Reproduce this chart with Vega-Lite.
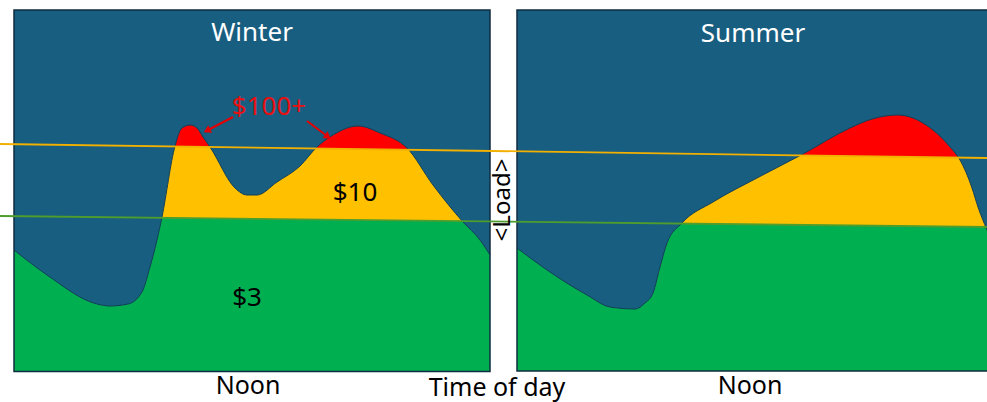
{
  "$schema": "https://vega.github.io/schema/vega-lite/v6.json",
  "width": 987,
  "height": 402,
  "autosize": {"type": "fit", "contains": "padding"},
  "padding": 0,
  "background": "white",
  "config": {"view": {"stroke": null}},
  "datasets": {
    "panels": [
      {"season": "Winter", "t0": 14, "t1": 490, "top": 392, "bottom": 30.5},
      {"season": "Summer", "t0": 517, "t1": 990, "top": 392, "bottom": 31}
    ],
    "bands": [
      {"season": "Winter", "t": 14, "orange": 257.8, "green": 185.8},
      {"season": "Winter", "t": 490, "orange": 251, "green": 180.5},
      {"season": "Summer", "t": 517, "orange": 250.7, "green": 180.2},
      {"season": "Summer", "t": 990, "orange": 244, "green": 175}
    ],
    "curve": [
      {"season": "Winter", "t": 14, "load": 152},
      {"season": "Winter", "t": 47, "load": 127},
      {"season": "Winter", "t": 97, "load": 98},
      {"season": "Winter", "t": 110, "load": 96},
      {"season": "Winter", "t": 128, "load": 98},
      {"season": "Winter", "t": 142, "load": 110},
      {"season": "Winter", "t": 150, "load": 135},
      {"season": "Winter", "t": 157, "load": 162},
      {"season": "Winter", "t": 162, "load": 185},
      {"season": "Winter", "t": 175, "load": 256},
      {"season": "Winter", "t": 182, "load": 274},
      {"season": "Winter", "t": 190, "load": 277},
      {"season": "Winter", "t": 197, "load": 274},
      {"season": "Winter", "t": 203, "load": 265},
      {"season": "Winter", "t": 210, "load": 255},
      {"season": "Winter", "t": 235, "load": 214},
      {"season": "Winter", "t": 247, "load": 207},
      {"season": "Winter", "t": 257, "load": 207},
      {"season": "Winter", "t": 277, "load": 220},
      {"season": "Winter", "t": 300, "load": 236},
      {"season": "Winter", "t": 317, "load": 255},
      {"season": "Winter", "t": 333, "load": 267},
      {"season": "Winter", "t": 358, "load": 276},
      {"season": "Winter", "t": 380, "load": 269},
      {"season": "Winter", "t": 407, "load": 254},
      {"season": "Winter", "t": 433, "load": 217},
      {"season": "Winter", "t": 463, "load": 180},
      {"season": "Winter", "t": 480, "load": 162},
      {"season": "Winter", "t": 490, "load": 147},
      {"season": "Summer", "t": 517, "load": 154},
      {"season": "Summer", "t": 547, "load": 132},
      {"season": "Summer", "t": 587, "load": 107},
      {"season": "Summer", "t": 610, "load": 95},
      {"season": "Summer", "t": 635, "load": 93},
      {"season": "Summer", "t": 645, "load": 99},
      {"season": "Summer", "t": 653, "load": 109},
      {"season": "Summer", "t": 660, "load": 135},
      {"season": "Summer", "t": 667, "load": 159},
      {"season": "Summer", "t": 682, "load": 179},
      {"season": "Summer", "t": 713, "load": 200},
      {"season": "Summer", "t": 757, "load": 224},
      {"season": "Summer", "t": 803, "load": 248},
      {"season": "Summer", "t": 850, "load": 274},
      {"season": "Summer", "t": 872, "load": 283},
      {"season": "Summer", "t": 898, "load": 287},
      {"season": "Summer", "t": 910, "load": 285},
      {"season": "Summer", "t": 923, "load": 279},
      {"season": "Summer", "t": 950, "load": 255},
      {"season": "Summer", "t": 960, "load": 242},
      {"season": "Summer", "t": 972, "load": 214},
      {"season": "Summer", "t": 978, "load": 195},
      {"season": "Summer", "t": 987, "load": 172},
      {"season": "Summer", "t": 990, "load": 165}
    ],
    "thresholds": [
      {"price": "$10", "t": 0, "load": 258, "t2": 987, "load2": 244},
      {"price": "$3", "t": 0, "load": 186, "t2": 987, "load2": 175}
    ],
    "arrows": [
      {"id": "a", "t": 233, "load": 285, "t2": 208, "load2": 272},
      {"id": "b", "t": 307, "load": 281, "t2": 327, "load2": 266}
    ],
    "titles": [
      {"label": "Winter", "t": 252, "load": 369},
      {"label": "Summer", "t": 753, "load": 368}
    ],
    "prices": [
      {"label": "$10", "t": 355, "load": 209},
      {"label": "$3", "t": 247, "load": 104}
    ],
    "bottomLabels": [
      {"label": "Noon", "t": 248, "load": 16},
      {"label": "Noon", "t": 750, "load": 16},
      {"label": "Time of day", "t": 497, "load": 14}
    ]
  },
  "data": {"name": "panels"},
  "layer": [
    {
      "data": {"name": "panels"},
      "mark": {"type": "rect", "color": "#FF0000", "clip": true},
      "encoding": {
        "x": {"field": "t0", "type": "quantitative", "axis": null, "scale": {"domain": [0, 987], "nice": false, "zero": false}},
        "x2": {"field": "t1"},
        "y": {"field": "top", "type": "quantitative", "axis": null, "scale": {"domain": [0, 402], "nice": false, "zero": false}},
        "y2": {"field": "bottom"}
      }
    },
    {
      "data": {"name": "bands"},
      "mark": {"type": "area", "color": "#FFC000", "clip": true},
      "encoding": {
        "x": {"field": "t", "type": "quantitative"},
        "y": {"field": "orange", "type": "quantitative"},
        "y2": {"datum": 31},
        "detail": {"field": "season"}
      }
    },
    {
      "data": {"name": "bands"},
      "mark": {"type": "area", "color": "#00AF50", "clip": true},
      "encoding": {
        "x": {"field": "t", "type": "quantitative"},
        "y": {"field": "green", "type": "quantitative"},
        "y2": {"datum": 31},
        "detail": {"field": "season"}
      }
    },
    {
      "data": {"name": "curve"},
      "mark": {"type": "area", "color": "#185E80", "interpolate": "monotone", "clip": true},
      "encoding": {
        "x": {"field": "t", "type": "quantitative"},
        "y": {"field": "load", "type": "quantitative"},
        "y2": {"datum": 392},
        "detail": {"field": "season"}
      }
    },
    {
      "data": {"name": "curve"},
      "mark": {"type": "line", "color": "#123f58", "strokeWidth": 1, "interpolate": "monotone", "clip": true},
      "encoding": {
        "x": {"field": "t", "type": "quantitative"},
        "y": {"field": "load", "type": "quantitative"},
        "detail": {"field": "season"}
      }
    },
    {
      "data": {"name": "panels"},
      "mark": {"type": "rect", "fill": null, "stroke": "#0f2d40", "strokeWidth": 1.5, "clip": true},
      "encoding": {
        "x": {"field": "t0", "type": "quantitative"},
        "x2": {"field": "t1"},
        "y": {"field": "top", "type": "quantitative"},
        "y2": {"field": "bottom"}
      }
    },
    {
      "data": {"name": "thresholds"},
      "transform": [{"filter": "datum.price == '$10'"}],
      "mark": {"type": "rule", "color": "#F2B100", "strokeWidth": 1.8, "clip": true},
      "encoding": {
        "x": {"field": "t", "type": "quantitative"},
        "x2": {"field": "t2"},
        "y": {"field": "load", "type": "quantitative"},
        "y2": {"field": "load2"}
      }
    },
    {
      "data": {"name": "thresholds"},
      "transform": [{"filter": "datum.price == '$3'"}],
      "mark": {"type": "rule", "color": "#4E9D2D", "strokeWidth": 1.8, "clip": true},
      "encoding": {
        "x": {"field": "t", "type": "quantitative"},
        "x2": {"field": "t2"},
        "y": {"field": "load", "type": "quantitative"},
        "y2": {"field": "load2"}
      }
    },
    {
      "data": {"name": "arrows"},
      "mark": {"type": "rule", "color": "#E60000", "strokeWidth": 2},
      "encoding": {
        "x": {"field": "t", "type": "quantitative"},
        "x2": {"field": "t2"},
        "y": {"field": "load", "type": "quantitative"},
        "y2": {"field": "load2"}
      }
    },
    {
      "data": {"name": "arrows"},
      "transform": [{"filter": "datum.id == 'a'"}],
      "mark": {"type": "point", "shape": "triangle", "filled": true, "color": "#E60000", "size": 70, "angle": 243, "opacity": 1},
      "encoding": {
        "x": {"field": "t2", "type": "quantitative"},
        "y": {"field": "load2", "type": "quantitative"}
      }
    },
    {
      "data": {"name": "arrows"},
      "transform": [{"filter": "datum.id == 'b'"}],
      "mark": {"type": "point", "shape": "triangle", "filled": true, "color": "#E60000", "size": 70, "angle": 127, "opacity": 1},
      "encoding": {
        "x": {"field": "t2", "type": "quantitative"},
        "y": {"field": "load2", "type": "quantitative"}
      }
    },
    {
      "data": {"name": "titles"},
      "mark": {"type": "text", "color": "white", "font": "Noto Sans", "fontSize": 26, "baseline": "middle", "align": "center"},
      "encoding": {
        "x": {"field": "t", "type": "quantitative"},
        "y": {"field": "load", "type": "quantitative"},
        "text": {"field": "label"}
      }
    },
    {
      "data": {"values": [{"label": "$100+", "t": 269, "load": 295}]},
      "mark": {"type": "text", "color": "#E81010", "font": "Noto Sans", "fontSize": 26, "baseline": "middle", "align": "center"},
      "encoding": {
        "x": {"field": "t", "type": "quantitative"},
        "y": {"field": "load", "type": "quantitative"},
        "text": {"field": "label"}
      }
    },
    {
      "data": {"name": "prices"},
      "mark": {"type": "text", "color": "black", "font": "Noto Sans", "fontSize": 26, "baseline": "middle", "align": "center"},
      "encoding": {
        "x": {"field": "t", "type": "quantitative"},
        "y": {"field": "load", "type": "quantitative"},
        "text": {"field": "label"}
      }
    },
    {
      "data": {"name": "bottomLabels"},
      "mark": {"type": "text", "color": "black", "font": "Noto Sans", "fontSize": 25, "baseline": "middle", "align": "center"},
      "encoding": {
        "x": {"field": "t", "type": "quantitative"},
        "y": {"field": "load", "type": "quantitative"},
        "text": {"field": "label"}
      }
    },
    {
      "data": {"values": [{"label": "<Load>", "t": 503, "load": 202}]},
      "mark": {"type": "text", "color": "black", "font": "Noto Sans", "fontSize": 24, "baseline": "middle", "align": "center", "angle": 270},
      "encoding": {
        "x": {"field": "t", "type": "quantitative"},
        "y": {"field": "load", "type": "quantitative"},
        "text": {"field": "label"}
      }
    }
  ]
}
